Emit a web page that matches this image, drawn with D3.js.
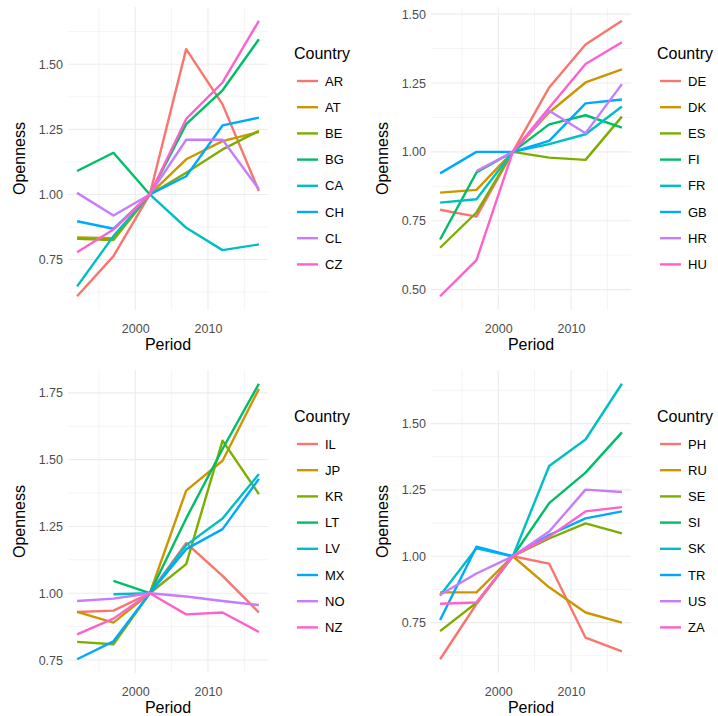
<!DOCTYPE html>
<html>
<head>
<meta charset="utf-8">
<script src="https://cdn.jsdelivr.net/npm/d3@7/dist/d3.min.js"></script>
<style>
  html, body { margin: 0; padding: 0; background: #ffffff; }
  svg { display: block; font-family: "Liberation Sans", Arial, Helvetica, sans-serif; }
</style>
</head>
<body>
<svg id="chart" width="718" height="716"></svg>
<script>
// Survey periods shared by every panel (openness indexed to 1.00 in 2002)
const years = [1992, 1997, 2002, 2007, 2012, 2017];
const xTicks = [2000, 2010];
const palette = ["#F8766D", "#CD9600", "#7CAE00", "#00BE67", "#00BFC4", "#00A9FF", "#C77CFF", "#FF61CC"];

const panel1Countries = ["AR", "AT", "BE", "BG", "CA", "CH", "CL", "CZ"];
const panel1Values = [
  [0.609, 0.763, 1, 1.558, 1.346, 1.013],
  [0.835, 0.832, 1, 1.135, 1.205, 1.240],
  [0.830, 0.825, 1, 1.083, 1.173, 1.244],
  [1.090, 1.160, 1, 1.270, 1.400, 1.596],
  [0.647, 0.840, 1, 0.872, 0.786, 0.808],
  [0.897, 0.868, 1, 1.070, 1.265, 1.295],
  [1.006, 0.919, 1, 1.210, 1.210, 1.020],
  [0.778, 0.865, 1, 1.290, 1.430, 1.667]
];
const panel1YTicks = [0.75, 1.00, 1.25, 1.50];

const panel2Countries = ["DE", "DK", "ES", "FI", "FR", "GB", "HR", "HU"];
const panel2Values = [
  [0.790, 0.765, 1, 1.234, 1.390, 1.476],
  [0.852, 0.862, 1, 1.143, 1.252, 1.300],
  [0.652, 0.780, 1, 0.979, 0.971, 1.128],
  [0.682, 0.925, 1, 1.100, 1.133, 1.088],
  [0.816, 0.828, 1, 1.028, 1.064, 1.165],
  [0.922, 1.000, 1, 1.040, 1.176, 1.190],
  [null, 0.930, 1, 1.149, 1.068, 1.246],
  [0.476, 0.607, 1, 1.160, 1.319, 1.398]
];
const panel2YTicks = [0.50, 0.75, 1.00, 1.25, 1.50];

const panel3Countries = ["IL", "JP", "KR", "LT", "LV", "MX", "NO", "NZ"];
const panel3Values = [
  [0.930, 0.935, 1, 1.188, 1.065, 0.928],
  [0.930, 0.890, 1, 1.384, 1.496, 1.765],
  [0.818, 0.809, 1, 1.109, 1.571, 1.371],
  [null, 1.046, 1, 1.280, 1.540, 1.784],
  [null, 0.996, 1, 1.180, 1.280, 1.446],
  [0.753, 0.820, 1, 1.165, 1.240, 1.428],
  [0.971, 0.980, 1, 0.988, 0.971, 0.956],
  [0.846, 0.905, 1, 0.921, 0.928, 0.855]
];
const panel3YTicks = [0.75, 1.00, 1.25, 1.50, 1.75];

const panel4Countries = ["PH", "RU", "SE", "SI", "SK", "TR", "US", "ZA"];
const panel4Values = [
  [0.612, 0.820, 1, 0.972, 0.693, 0.642],
  [0.864, 0.864, 1, 0.883, 0.788, 0.750],
  [0.718, 0.825, 1, 1.067, 1.124, 1.086],
  [null, null, 1, 1.200, 1.315, 1.467],
  [0.852, 1.030, 1, 1.340, 1.440, 1.650],
  [0.760, 1.036, 1, 1.080, 1.143, 1.169],
  [0.855, 0.935, 1, 1.093, 1.251, 1.242],
  [0.821, 0.826, 1, 1.074, 1.169, 1.185]
];
const panel4YTicks = [0.75, 1.00, 1.25, 1.50];

const panels = [
  { countries: panel1Countries, values: panel1Values, yTicks: panel1YTicks },
  { countries: panel2Countries, values: panel2Values, yTicks: panel2YTicks },
  { countries: panel3Countries, values: panel3Values, yTicks: panel3YTicks },
  { countries: panel4Countries, values: panel4Values, yTicks: panel4YTicks }
];

// Panel layout: 2 x 2 grid
const origins = [[0, 0], [363, 0], [0, 363], [363, 363]];
const plot = { left: 68, right: 268, top: 7, bottom: 310 };
const gridColor = "#ECECEC";
const tickColor = "#4D4D4D";

const svg = d3.select("#chart");

// ggplot-style 5% expansion of a continuous range
function expand(lo, hi) {
  const pad = (hi - lo) * 0.05;
  return [lo - pad, hi + pad];
}

// minor breaks halfway between majors, kept inside the domain
function minorBreaks(ticks, domain) {
  const step = ticks[1] - ticks[0];
  const out = [];
  for (let v = ticks[0] - step / 2; v <= ticks[ticks.length - 1] + step / 2 + 1e-9; v += step) {
    if (v >= domain[0] && v <= domain[1]) out.push(v);
  }
  return out;
}

panels.forEach((p, i) => {
  const [ox, oy] = origins[i];
  const g = svg.append("g").attr("transform", `translate(${ox},${oy})`);

  const xDomain = expand(d3.min(years), d3.max(years));
  const x = d3.scaleLinear().domain(xDomain).range([plot.left, plot.right]);

  const flat = p.values.flat().filter(v => v != null);
  const yDomain = expand(d3.min(flat), d3.max(flat));
  const y = d3.scaleLinear().domain(yDomain).range([plot.bottom, plot.top]);

  // grid: minor lines first, then majors
  const grid = g.append("g");
  minorBreaks(xTicks, xDomain).forEach(v => {
    grid.append("line").attr("x1", x(v)).attr("x2", x(v))
      .attr("y1", plot.top).attr("y2", plot.bottom)
      .attr("stroke", gridColor).attr("stroke-width", 0.6);
  });
  minorBreaks(p.yTicks, yDomain).forEach(v => {
    grid.append("line").attr("x1", plot.left).attr("x2", plot.right)
      .attr("y1", y(v)).attr("y2", y(v))
      .attr("stroke", gridColor).attr("stroke-width", 0.6);
  });
  xTicks.forEach(v => {
    grid.append("line").attr("x1", x(v)).attr("x2", x(v))
      .attr("y1", plot.top).attr("y2", plot.bottom)
      .attr("stroke", gridColor).attr("stroke-width", 1.1);
  });
  p.yTicks.forEach(v => {
    grid.append("line").attr("x1", plot.left).attr("x2", plot.right)
      .attr("y1", y(v)).attr("y2", y(v))
      .attr("stroke", gridColor).attr("stroke-width", 1.1);
  });

  // axes (labels only, no ticks or domain line)
  const xAxis = g.append("g").attr("transform", `translate(0,${plot.bottom})`)
    .call(d3.axisBottom(x).tickValues(xTicks).tickFormat(d3.format("d")).tickSize(0).tickPadding(14));
  const yAxis = g.append("g").attr("transform", `translate(${plot.left},0)`)
    .call(d3.axisLeft(y).tickValues(p.yTicks).tickFormat(d3.format(".2f")).tickSize(0).tickPadding(5));
  [xAxis, yAxis].forEach(a => {
    a.select(".domain").remove();
    a.selectAll("text").attr("fill", tickColor).style("font-size", "12.5px")
      .style("font-family", '"Liberation Sans", Arial, sans-serif');
  });

  // axis titles
  g.append("text").attr("x", (plot.left + plot.right) / 2).attr("y", 350)
    .attr("text-anchor", "middle").attr("font-size", 16).attr("fill", "#000")
    .text("Period");
  g.append("text").attr("transform", `translate(25,${(plot.top + plot.bottom) / 2}) rotate(-90)`)
    .attr("text-anchor", "middle").attr("font-size", 16).attr("fill", "#000")
    .text("Openness");

  // series lines
  const line = d3.line()
    .defined(d => d[1] != null)
    .x(d => x(d[0]))
    .y(d => y(d[1]));
  p.countries.forEach((c, k) => {
    const pts = years.map((yr, j) => [yr, p.values[k][j]]);
    g.append("path").datum(pts)
      .attr("d", line)
      .attr("fill", "none")
      .attr("stroke", palette[k])
      .attr("stroke-width", 2.4)
      .attr("stroke-linejoin", "round");
  });

  // legend
  const leg = g.append("g");
  leg.append("text").attr("x", 294).attr("y", 59)
    .attr("font-size", 16).attr("fill", "#000").text("Country");
  p.countries.forEach((c, k) => {
    const cy = 81 + k * 26.2;
    leg.append("line").attr("x1", 297).attr("x2", 318)
      .attr("y1", cy).attr("y2", cy)
      .attr("stroke", palette[k]).attr("stroke-width", 2.4);
    leg.append("text").attr("x", 325).attr("y", cy)
      .attr("dy", "0.35em").attr("font-size", 13).attr("fill", "#000")
      .text(c);
  });
});
</script>
</body>
</html>
